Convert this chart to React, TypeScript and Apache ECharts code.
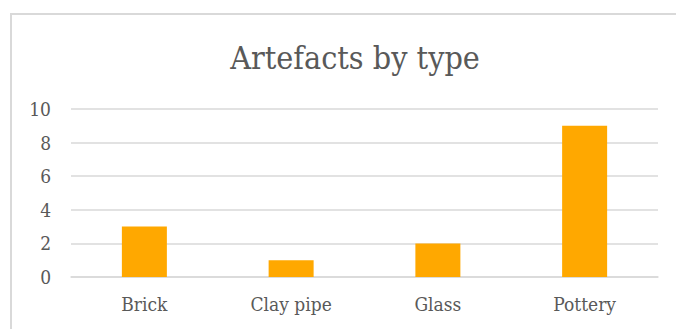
import React, { useEffect, useRef } from "react";
import * as echarts from "echarts";

const titleText = "Artefacts by type";
const categories = ["Brick", "Clay pipe", "Glass", "Pottery"];
const counts = [3, 1, 2, 9];
const yMin = 0;
const yMax = 10;
const yStep = 2;

const FONT = "DejaVu Serif Condensed";
const TEXT = "#595959";
const GRID = "#d9d9d9";

export default function App() {
  const ref = useRef<HTMLDivElement>(null);

  useEffect(() => {
    if (!ref.current) return;
    const chart = echarts.init(ref.current, null, { renderer: "svg" });
    chart.setOption({
      animation: false,
      backgroundColor: "#ffffff",
      textStyle: { fontFamily: FONT },
      title: {
        text: titleText,
        left: 350,
        top: 37,
        textAlign: "center",
        textStyle: {
          fontFamily: FONT,
          fontSize: 32,
          fontWeight: "normal",
          color: TEXT,
        },
      },
      graphic: [
        {
          type: "rect",
          shape: { x: 11, y: 14, width: 720, height: 400 },
          style: { fill: "none", stroke: GRID, lineWidth: 2 },
          silent: true,
        },
      ],
      grid: { left: 71, right: 18, top: 109, bottom: 52 },
      xAxis: {
        type: "category",
        data: categories,
        axisLine: { show: true, lineStyle: { color: GRID, width: 1.5 } },
        axisTick: { show: false },
        axisLabel: {
          margin: 17,
          fontFamily: FONT,
          fontSize: 19,
          color: TEXT,
        },
      },
      yAxis: {
        type: "value",
        min: yMin,
        max: yMax,
        interval: yStep,
        axisLine: { show: false },
        axisTick: { show: false },
        splitLine: { lineStyle: { color: GRID, width: 1.5 } },
        axisLabel: {
          margin: 20,
          fontFamily: FONT,
          fontSize: 19,
          color: TEXT,
        },
      },
      series: [
        {
          type: "bar",
          data: counts,
          barWidth: 45,
          itemStyle: { color: "#FFA800" },
        },
      ],
    });
    return () => chart.dispose();
  }, []);

  return (
    <div
      ref={ref}
      style={{ position: "fixed", left: 0, top: 0, width: 676, height: 329 }}
    />
  );
}
